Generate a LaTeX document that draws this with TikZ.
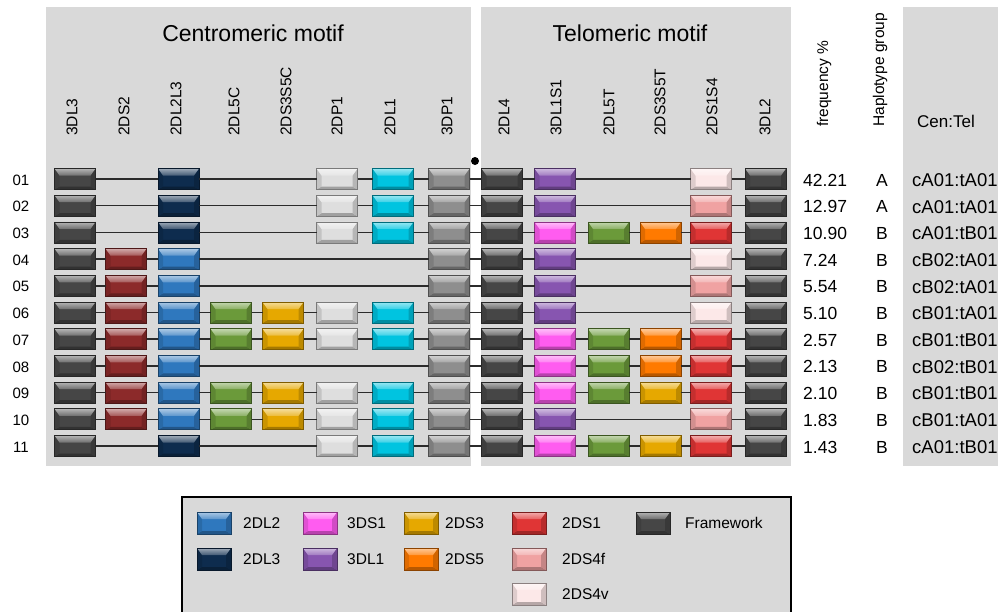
\documentclass[tikz,border=0pt]{standalone}
\usepackage{fontspec}
\setmainfont{Liberation Sans}
\usetikzlibrary{calc}

% gene colours
\definecolor{kFW}{HTML}{464646}
\definecolor{kDLiii}{HTML}{0E2C4E}
\definecolor{kDLii}{HTML}{2F78BE}
\definecolor{kDSii}{HTML}{8C2A2A}
\definecolor{kDLv}{HTML}{6B9A3A}
\definecolor{kDSiii}{HTML}{E6A800}
\definecolor{kDSv}{HTML}{FF7A00}
\definecolor{kDPi}{HTML}{DEDEDE}
\definecolor{kDLi}{HTML}{00C4E0}
\definecolor{kTDPi}{HTML}{8E8E8E}
\definecolor{kTDSi}{HTML}{FF5CF0}
\definecolor{kTDLi}{HTML}{8755B0}
\definecolor{kDSi}{HTML}{E03535}
\definecolor{kDSivf}{HTML}{F0A2A2}
\definecolor{kDSivv}{HTML}{FCE8E8}
\definecolor{panel}{HTML}{D9D9D9}
\definecolor{wire}{HTML}{2B2B2B}

\tikzset{
  bevel/.style={
    rectangle, inner sep=0pt, outer sep=0pt,
    draw=#1!55!black, line width=0.7pt, fill=#1,
    path picture={
      % darker lower rim
      \fill[#1!72!black]
        (path picture bounding box.south west) -- (path picture bounding box.south east)
        -- ([shift={(-5pt,3pt)}]path picture bounding box.south east)
        -- ([shift={(5pt,3pt)}]path picture bounding box.south west) -- cycle;
      % side rims
      \fill[#1!88!black]
        (path picture bounding box.north west) -- ([shift={(5pt,-7pt)}]path picture bounding box.north west)
        -- ([shift={(5pt,3pt)}]path picture bounding box.south west)
        -- (path picture bounding box.south west) -- cycle;
      \fill[#1!82!black]
        (path picture bounding box.north east) -- ([shift={(-5pt,-7pt)}]path picture bounding box.north east)
        -- ([shift={(-5pt,3pt)}]path picture bounding box.south east)
        -- (path picture bounding box.south east) -- cycle;
      % shiny upper bevel
      \shade[top color=#1!40!white, bottom color=#1!78!white]
        (path picture bounding box.north west) -- (path picture bounding box.north east)
        -- ([shift={(-5pt,-7pt)}]path picture bounding box.north east)
        -- ([shift={(5pt,-7pt)}]path picture bounding box.north west) -- cycle;
    }},
  gene/.style={bevel=#1, minimum width=41pt, minimum height=21pt},
  keybox/.style={bevel=#1, minimum width=34pt, minimum height=22pt},
  link/.style={draw=wire, line width=1.5pt},
  heading/.style={font=\fontsize{23}{27}\selectfont, inner sep=0pt},
  collabel/.style={rotate=90, anchor=west, inner sep=0pt, font=\fontsize{15.5}{18}\selectfont},
  rowlabel/.style={inner sep=0pt, font=\fontsize{15}{18}\selectfont},
  datum/.style={inner sep=0pt, font=\fontsize{17.5}{20}\selectfont},
  combo/.style={anchor=west, inner sep=0pt, font=\fontsize{18.5}{21}\selectfont},
  keytext/.style={anchor=west, inner sep=0pt, font=\fontsize{15.5}{18}\selectfont},
}

% one haplotype row: #1 row number, #2 vertical position, #3 list of column/colour
\newcommand\haprow[3]{%
  \foreach \c/\k [remember=\c as \p (initially 0)] in {#3} {%
    \pgfmathsetmacro\xx{{75,126,178.5,231,283,337,393,449,502,555,608.5,660.5,711,765.5}[\c-1]}%
    \node[gene=\k] (g#1-\c) at (\xx,#2) {};
    \ifnum\p>0 \draw[link] (g#1-\p.east) -- (g#1-\c.west);\fi
  }%
}

\begin{document}
\begin{tikzpicture}[x=1pt,y=-1pt]
\useasboundingbox (0,0) rectangle (998,611);
\fill[white] (0,0) rectangle (998,611);

% background panels
\fill[panel] (46,7) rectangle (471,466);
\fill[panel] (481,7) rectangle (791,466);
\fill[panel] (903,7) rectangle (998,466);

% headings
\node[heading] (cenhead) at (253,33) {Centromeric motif};
\node[heading] (telhead) at (630,33) {Telomeric motif};

% gene column labels
\foreach \x/\t [count=\i] in {72/3DL3,124/2DS2,176/2DL2L3,234/2DL5C,286/2DS3S5C,337/2DP1,390/2DL1,447/3DP1,
                             504/2DL4,556/3DL1S1,609/2DL5T,660/2DS3S5T,712/2DS1S4,765/3DL2}
  \node[collabel] (col\i) at (\x,136) {\t};

\node[collabel] (freqhead) at (824,127) {frequency \%};
\node[collabel] (grouphead) at (880,127) {Haplotype group};
\node[datum, font=\fontsize{17}{20}\selectfont] (cthead) at (946,121) {Cen:Tel};

% boundary mark between the two motifs
\node[circle, fill=black, inner sep=0pt, minimum size=8pt] (bound) at (475,161) {};

% haplotype rows
\haprow{1}{179}{1/kFW,3/kDLiii,6/kDPi,7/kDLi,8/kTDPi,9/kFW,10/kTDLi,13/kDSivv,14/kFW}
\haprow{2}{205.7}{1/kFW,3/kDLiii,6/kDPi,7/kDLi,8/kTDPi,9/kFW,10/kTDLi,13/kDSivf,14/kFW}
\haprow{3}{232.4}{1/kFW,3/kDLiii,6/kDPi,7/kDLi,8/kTDPi,9/kFW,10/kTDSi,11/kDLv,12/kDSv,13/kDSi,14/kFW}
\haprow{4}{259.1}{1/kFW,2/kDSii,3/kDLii,8/kTDPi,9/kFW,10/kTDLi,13/kDSivv,14/kFW}
\haprow{5}{285.8}{1/kFW,2/kDSii,3/kDLii,8/kTDPi,9/kFW,10/kTDLi,13/kDSivf,14/kFW}
\haprow{6}{312.5}{1/kFW,2/kDSii,3/kDLii,4/kDLv,5/kDSiii,6/kDPi,7/kDLi,8/kTDPi,9/kFW,10/kTDLi,13/kDSivv,14/kFW}
\haprow{7}{339.2}{1/kFW,2/kDSii,3/kDLii,4/kDLv,5/kDSiii,6/kDPi,7/kDLi,8/kTDPi,9/kFW,10/kTDSi,11/kDLv,12/kDSv,13/kDSi,14/kFW}
\haprow{8}{365.9}{1/kFW,2/kDSii,3/kDLii,8/kTDPi,9/kFW,10/kTDSi,11/kDLv,12/kDSv,13/kDSi,14/kFW}
\haprow{9}{392.6}{1/kFW,2/kDSii,3/kDLii,4/kDLv,5/kDSiii,6/kDPi,7/kDLi,8/kTDPi,9/kFW,10/kTDSi,11/kDLv,12/kDSiii,13/kDSi,14/kFW}
\haprow{10}{419.3}{1/kFW,2/kDSii,3/kDLii,4/kDLv,5/kDSiii,6/kDPi,7/kDLi,8/kTDPi,9/kFW,10/kTDLi,13/kDSivf,14/kFW}
\haprow{11}{446}{1/kFW,3/kDLiii,6/kDPi,7/kDLi,8/kTDPi,9/kFW,10/kTDSi,11/kDLv,12/kDSiii,13/kDSi,14/kFW}

% row numbers, frequencies, groups and Cen:Tel combinations
\foreach \n/\f/\g/\ct [count=\i] in {
    01/42.21/A/cA01:tA01, 02/12.97/A/cA01:tA01, 03/10.90/B/cA01:tB01,
    04/7.24/B/cB02:tA01,  05/5.54/B/cB02:tA01,  06/5.10/B/cB01:tA01,
    07/2.57/B/cB01:tB01,  08/2.13/B/cB02:tB01,  09/2.10/B/cB01:tB01,
    10/1.83/B/cB01:tA01,  11/1.43/B/cA01:tB01} {
  \pgfmathsetmacro\yy{179+(\i-1)*26.7}
  \node[rowlabel] (num\i) at (21,\yy+1) {\n};
  \node[datum, anchor=west] (freq\i) at (803,\yy+1) {\f};
  \node[datum] (grp\i) at (882,\yy+1) {\g};
  \node[combo] (ct\i) at (912,\yy+1) {\ct};
}

% legend
\draw[line width=2pt, fill=panel] (182,497) rectangle (791,614);
\node[keybox=kDLii]  (key1)  at (214,523) {};
\node[keytext] (keyt1)  at (243,523) {2DL2};
\node[keybox=kDLiii] (key2)  at (214,559) {};
\node[keytext] (keyt2)  at (243,559) {2DL3};
\node[keybox=kTDSi]  (key3)  at (320,523) {};
\node[keytext] (keyt3)  at (347,523) {3DS1};
\node[keybox=kTDLi]  (key4)  at (320,559) {};
\node[keytext] (keyt4)  at (347,559) {3DL1};
\node[keybox=kDSiii] (key5)  at (421,523) {};
\node[keytext] (keyt5)  at (445,523) {2DS3};
\node[keybox=kDSv]   (key6)  at (421,559) {};
\node[keytext] (keyt6)  at (445,559) {2DS5};
\node[keybox=kDSi]   (key7)  at (529,523) {};
\node[keytext] (keyt7)  at (562,523) {2DS1};
\node[keybox=kDSivf] (key8)  at (529,559) {};
\node[keytext] (keyt8)  at (562,559) {2DS4f};
\node[keybox=kDSivv] (key9)  at (529,594) {};
\node[keytext] (keyt9)  at (562,594) {2DS4v};
\node[keybox=kFW]    (key10) at (653,523) {};
\node[keytext] (keyt10) at (685,523) {Framework};
\end{tikzpicture}
\end{document}
